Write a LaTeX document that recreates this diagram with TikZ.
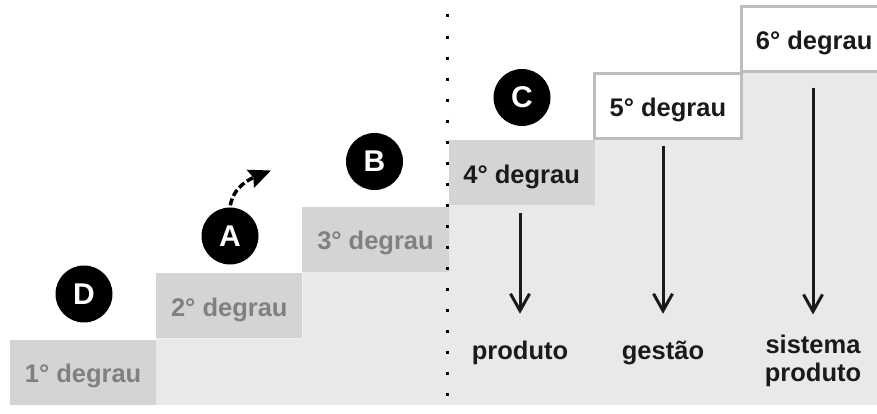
\documentclass[tikz,border=0pt]{standalone}
\usepackage{fontspec}
\setmainfont{Liberation Sans}
\usetikzlibrary{arrows.meta}

\definecolor{stepgray}{HTML}{D4D4D4}
\definecolor{floorgray}{HTML}{E9E9E9}
\definecolor{rimgray}{HTML}{BDBDBD}
\definecolor{fadedtext}{HTML}{808080}
\definecolor{ink}{HTML}{1A1A1A}

\tikzstyle{stepbox}=[minimum width=146.2pt,minimum height=65pt,inner sep=0pt,outer sep=0pt,text height=21pt,text depth=0pt,font=\fontsize{25.5}{28}\selectfont\bfseries]
\tikzstyle{lowstep}=[stepbox,fill=stepgray,text=fadedtext]
\tikzstyle{midstep}=[stepbox,fill=stepgray,text=ink]
\tikzstyle{openstep}=[stepbox,fill=white,draw=rimgray,line width=3pt,text=ink]
\tikzstyle{badge}=[circle,fill=black,text=white,minimum size=57pt,inner sep=0pt,font=\fontsize{30}{32}\selectfont\bfseries]
\tikzstyle{outcome}=[inner sep=0pt,align=center,text=ink,text height=19pt,text depth=6pt,font=\fontsize{25.5}{27.7}\selectfont\bfseries]
\tikzstyle{lead}=[ink,line width=3pt,-{Straight Barb[length=17pt,width=19pt]}]
\tikzstyle{hop}=[black,line width=3.5pt,dash pattern=on 7pt off 3pt,-{Stealth[length=22pt,width=19pt,inset=3pt]}]
\tikzstyle{divider}=[black,line width=3pt,dash pattern=on 3pt off 18.05pt,dash phase=6.55pt]

\begin{document}
\begin{tikzpicture}[x=1pt,y=1pt]
    \useasboundingbox (0,0) rectangle (877,414);
    \clip (0,0) rectangle (877,414);

    % floor under the stairs
    \fill[floorgray] (156.2,9) -- (156.2,75.6) -- (302.4,75.6) -- (302.4,142.2) -- (448.6,142.2)
        -- (448.6,208.8) -- (594.8,208.8) -- (594.8,275.4) -- (741,275.4) -- (741,342)
        -- (877,342) -- (877,9) -- cycle;

    % the six steps
    \node (s1)[lowstep]  at (83.1,41.5)   {1° degrau};
    \node (s2)[lowstep]  at (229.3,108.1) {2° degrau};
    \node (s3)[lowstep]  at (375.5,174.7) {3° degrau};
    \node (s4)[midstep]  at (521.7,241.3) {4° degrau};
    \node (s5)[openstep] at (667.9,307.9) {5° degrau};
    \node (s6)[openstep] at (814.1,374.5) {6° degrau};

    % markers
    \node (d)[badge] at (84,120)      {D};
    \node (a)[badge] at (230,178)     {A};
    \node (b)[badge] at (374.5,252.5) {B};
    \node (c)[badge] at (522,316.5)   {C};

    % outcomes of the upper steps
    \node (prod)[outcome,anchor=base] at (520,54)   {produto};
    \node (gest)[outcome,anchor=base] at (663,54)   {gestão};
    \node (sist)[outcome,anchor=base] at (813,32.3) {sistema\\produto};

    \draw[lead,shorten <=7.6pt,shorten >=27pt] (prod |- s4.south) -- (prod);
    \draw[lead,shorten <=7.4pt,shorten >=27pt] (gest |- s5.south) -- (gest);
    \draw[lead,shorten <=16pt,shorten >=48pt]  (sist |- s6.south) -- (sist);

    % climbing hint
    \coordinate (rise) at (271,243.5);
    \draw[hop,shorten <=2pt] (a.north) to[out=80,in=202] (rise);

    \draw[divider] (447.5,414) -- (447.5,0);
\end{tikzpicture}
\end{document}
